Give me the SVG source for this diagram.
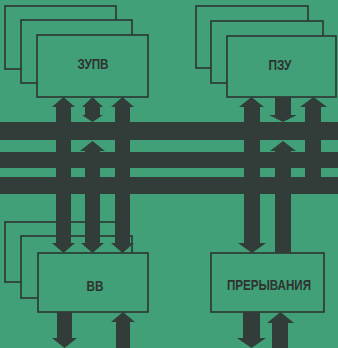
<svg xmlns="http://www.w3.org/2000/svg" width="338" height="348" viewBox="0 0 338 348">
<style>
.bg{fill:#41a078}
.box{fill:#41a078;stroke:#2c3532;stroke-width:1.6}
.bar{fill:#323d3a}
.lbl{font-family:"Liberation Sans","DejaVu Sans",sans-serif;font-weight:bold;font-size:14px;fill:#2e3331;text-anchor:middle}
</style>
<rect class="bg" x="0" y="0" width="338" height="348"/>
<g id="zupv">
<rect class="box" x="5" y="6" width="111" height="63"/>
<rect class="box" x="21" y="20" width="111" height="63"/>
<rect class="box" x="37" y="35" width="111" height="62"/>
<text class="lbl" x="93" y="68.5" textLength="31" lengthAdjust="spacingAndGlyphs">ЗУПВ</text>
</g>
<g id="pzu">
<rect class="box" x="196" y="6" width="112" height="62"/>
<rect class="box" x="211" y="21" width="112" height="62"/>
<rect class="box" x="227" y="36" width="109" height="61"/>
<text class="lbl" x="280" y="70" textLength="23" lengthAdjust="spacingAndGlyphs">ПЗУ</text>
</g>
<g id="vv">
<rect class="box" x="5" y="222" width="111" height="60"/>
<rect class="box" x="21" y="236" width="111" height="62"/>
<rect class="box" x="38" y="253" width="110" height="59"/>
<text class="lbl" x="95" y="290.5" textLength="17" lengthAdjust="spacingAndGlyphs">ВВ</text>
</g>
<g id="preryvaniya">
<rect class="box" x="211" y="253" width="113" height="59"/>
<text class="lbl" x="269" y="290" textLength="84" lengthAdjust="spacingAndGlyphs">ПРЕРЫВАНИЯ</text>
</g>
<g id="connectors" class="bar">
<rect x="0" y="122" width="338" height="18"/>
<rect x="0" y="152" width="338" height="16"/>
<rect x="0" y="177" width="338" height="17"/>
<polygon points="63.5,97 75,107 71,107 71,243 75,243 63.5,253 52,243 56,243 56,107 52,107"/>
<polygon points="92.5,97 103,107 100,107 100,115 103,115 92.5,122 82,115 85,115 85,107 82,107"/>
<polygon points="92.5,141 105,151 100,151 100,243 104,243 92.5,253 81,243 85,243 85,151 80,151"/>
<polygon points="122.5,97 134,107 130,107 130,243 134,243 122.5,253 111,243 115,243 115,107 111,107"/>
<polygon points="57,312 72,312 72,338 77,338 64.5,348 52,338 57,338"/>
<polygon points="123,312 135,322 130,322 130,348 116,348 116,322 111,322"/>
<polygon points="251.5,97 264,107 260,107 260,243 266,243 252,253 238,243 244,243 244,107 239,107"/>
<polygon points="275,97 291,97 291,115 297,115 283,122 269,115 275,115"/>
<polygon points="283,141 296,151 291,151 291,253 275,253 275,151 270,151"/>
<polygon points="313.5,97 327,107 321,107 321,194 305,194 305,107 300,107"/>
<polygon points="243,312 260,312 260,338 266,338 251.5,348 237,338 243,338"/>
<polygon points="280.5,312 294,323 288,323 288,348 272,348 272,323 267,323"/>
</g>
</svg>
